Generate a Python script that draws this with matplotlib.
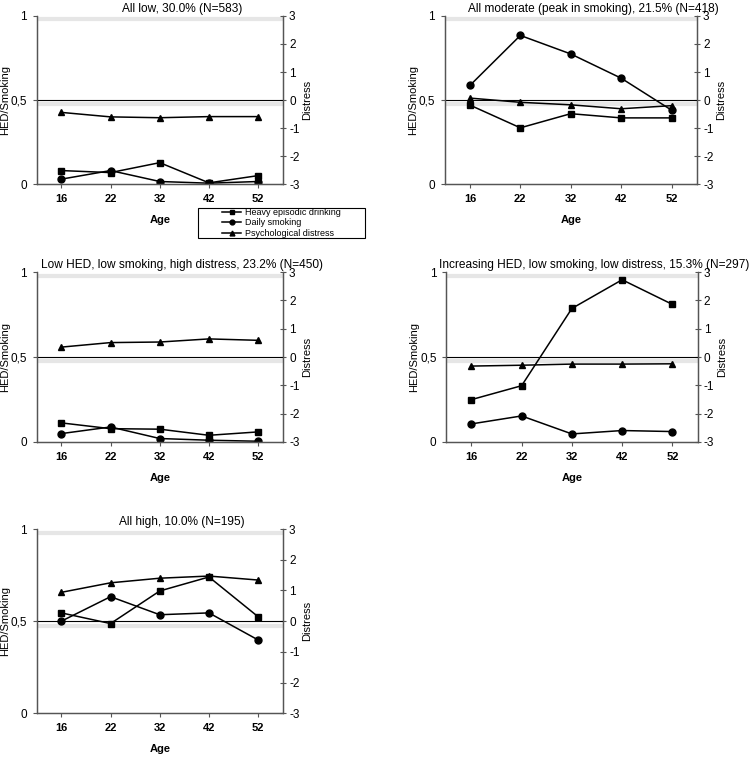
"""
Trajectory classes of heavy episodic drinking, daily smoking and
psychological distress from age 16 to 52 (five latent classes).
"""

import matplotlib
matplotlib.use("Agg")
import matplotlib.pyplot as plt
from matplotlib.patches import Rectangle

plt.rcParams["font.family"] = ["Liberation Sans", "DejaVu Sans"]
plt.rcParams["axes.unicode_minus"] = False

# ---------------------------------------------------------------------------
# Data
# ---------------------------------------------------------------------------
ages = ["16", "22", "32", "42", "52"]

titles = [
    "All low, 30.0% (N=583)",
    "All moderate (peak in smoking), 21.5% (N=418)",
    "Low HED, low smoking, high distress, 23.2% (N=450)",
    "Increasing HED, low smoking, low distress, 15.3% (N=297)",
    "All high, 10.0% (N=195)",
]

# heavy episodic drinking (probability, left axis)
hed = [
    [0.081, 0.069, 0.128, 0.008, 0.051],
    [0.470, 0.335, 0.419, 0.394, 0.394],
    [0.112, 0.078, 0.075, 0.039, 0.059],
    [0.249, 0.331, 0.786, 0.955, 0.810],
    [0.545, 0.487, 0.664, 0.740, 0.524],
]

# daily smoking (probability, left axis)
smoking = [
    [0.030, 0.081, 0.016, 0.006, 0.016],
    [0.587, 0.884, 0.774, 0.630, 0.440],
    [0.049, 0.088, 0.020, 0.010, 0.004],
    [0.106, 0.153, 0.047, 0.067, 0.061],
    [0.500, 0.633, 0.535, 0.545, 0.398],
]

# psychological distress (z-score, right axis)
distress = [
    [-0.44, -0.60, -0.63, -0.59, -0.59],
    [0.07, -0.08, -0.17, -0.31, -0.20],
    [0.35, 0.51, 0.53, 0.64, 0.59],
    [-0.32, -0.29, -0.25, -0.25, -0.24],
    [0.94, 1.25, 1.40, 1.47, 1.34],
]

legend_labels = ["Heavy episodic drinking", "Daily smoking", "Psychological distress"]

# ---------------------------------------------------------------------------
# Layout (figure fractions: left, bottom, width, height)
# ---------------------------------------------------------------------------
positions = [
    [0.049, 0.757, 0.328, 0.222],
    [0.593, 0.757, 0.336, 0.222],
    [0.049, 0.417, 0.328, 0.224],
    [0.595, 0.417, 0.335, 0.224],
    [0.049, 0.059, 0.328, 0.243],
]

spine_col = "#555555"
fig = plt.figure(figsize=(7.5, 7.58), dpi=100)

handles = None
for i, pos in enumerate(positions):
    ax = fig.add_axes(pos)
    ax2 = ax.twinx()
    x = list(range(len(ages)))

    ax.axhline(0.98, color="#e6e6e6", lw=3, zorder=0)
    ax.axhline(0.475, color="#e6e6e6", lw=3, zorder=0)

    h1, = ax.plot(x, hed[i], "k-", marker="s", ms=5, lw=1.1)
    h2, = ax.plot(x, smoking[i], "k-", marker="o", ms=5, lw=1.1)
    ax2.axhline(0, color="black", lw=0.8)
    h3, = ax2.plot(x, distress[i], "k-", marker="^", ms=5, lw=1.1)
    if handles is None:
        handles = [h1, h2, h3]

    ax.set_xlim(-0.5, len(ages) - 0.5)
    ax.set_ylim(0, 1)
    ax2.set_ylim(-3, 3)
    ax.set_xticks(x)
    ax.set_xticklabels(ages, fontsize=8, fontweight="bold")
    ax.set_yticks([0, 0.5, 1])
    ax.set_yticklabels(["0", "0,5", "1"], fontsize=8.5)
    ax2.set_yticks(range(-3, 4))
    ax2.set_yticklabels([str(v) for v in range(-3, 4)], fontsize=8.5)

    ax.tick_params(axis="x", length=3, color=spine_col, pad=4)
    ax.tick_params(axis="y", length=3, color=spine_col, pad=4)
    ax2.tick_params(axis="y", direction="inout", length=5, color=spine_col, pad=2)

    for a in (ax, ax2):
        a.spines["top"].set_visible(False)
        for s in ("left", "right", "bottom"):
            a.spines[s].set_color(spine_col)
            a.spines[s].set_linewidth(0.9)

    ax.set_ylabel("HED/Smoking", fontsize=8)
    ax.yaxis.set_label_coords(-27.0 / (pos[2] * 750), 0.5)
    ax2.set_ylabel("Distress", fontsize=8, labelpad=2)
    ax.set_xlabel("Age", fontsize=8, fontweight="bold", labelpad=8)
    ax.set_title(titles[i], fontsize=8.6, x=0.59, pad=3)

# Legend with a plain rectangular frame
fig.add_artist(Rectangle((0.264, 0.686), 0.223, 0.0396, transform=fig.transFigure,
                         fill=False, edgecolor="black", lw=0.8))
fig.legend(handles, legend_labels, loc="center", bbox_to_anchor=(0.375, 0.706),
           frameon=False, fontsize=6.5, handlelength=2.2, handletextpad=0.4,
           labelspacing=0.15, borderpad=0.1, markerscale=0.7)

plt.savefig("out.png", dpi=100)
